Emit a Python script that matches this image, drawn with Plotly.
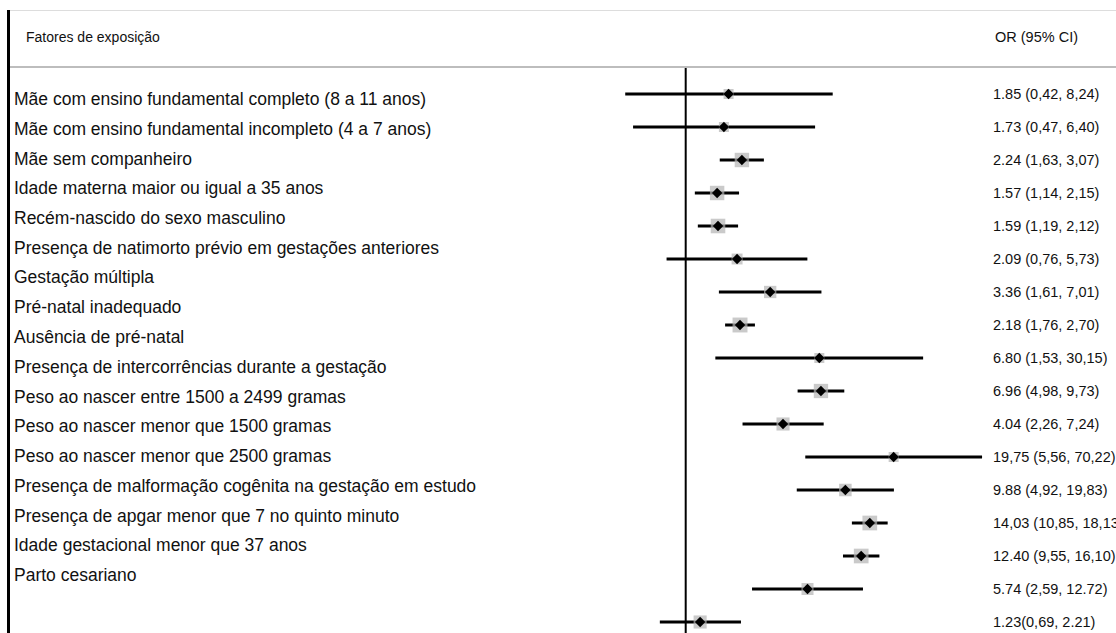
import numpy as np
import plotly.graph_objects as go

# ---- data ----
labels = [
    "Mãe com ensino fundamental completo (8 a 11 anos)",
    "Mãe com ensino fundamental incompleto (4 a 7 anos)",
    "Mãe sem companheiro",
    "Idade materna maior ou igual a 35 anos",
    "Recém-nascido do sexo masculino",
    "Presença de natimorto prévio em gestações anteriores",
    "Gestação múltipla",
    "Pré-natal inadequado",
    "Ausência de pré-natal",
    "Presença de intercorrências durante a gestação",
    "Peso ao nascer entre 1500 a 2499 gramas",
    "Peso ao nascer menor que 1500 gramas",
    "Peso ao nascer menor que 2500 gramas",
    "Presença de malformação cogênita na gestação em estudo",
    "Presença de apgar menor que 7 no quinto minuto",
    "Idade gestacional menor que 37 anos",
    "Parto cesariano",
]
odds_ratio = [1.85, 1.73, 2.24, 1.57, 1.59, 2.09, 3.36, 2.18, 6.80, 6.96, 4.04, 19.75, 9.88, 14.03, 12.40, 5.74, 1.23]
ci_low = [0.42, 0.47, 1.63, 1.14, 1.19, 0.76, 1.61, 1.76, 1.53, 4.98, 2.26, 5.56, 4.92, 10.85, 9.55, 2.59, 0.69]
ci_high = [8.24, 6.40, 3.07, 2.15, 2.12, 5.73, 7.01, 2.70, 30.15, 9.73, 7.24, 70.22, 19.83, 18.13, 16.10, 12.72, 2.21]
or_text = [
    "1.85 (0,42, 8,24)", "1.73 (0,47, 6,40)", "2.24 (1,63, 3,07)", "1.57 (1,14, 2,15)",
    "1.59 (1,19, 2,12)", "2.09 (0,76, 5,73)", "3.36 (1,61, 7,01)", "2.18 (1,76, 2,70)",
    "6.80 (1,53, 30,15)", "6.96 (4,98, 9,73)", "4.04 (2,26, 7,24)", "19,75 (5,56, 70,22)",
    "9.88 (4,92, 19,83)", "14,03 (10,85, 18,13)", "12.40 (9,55, 16,10)", "5.74 (2,59, 12.72)",
    "1.23(0,69, 2.21)",
]
header_left = "Fatores de exposição"
header_right = "OR (95% CI)"

# ---- layout ----
W, H = 1116, 633
n = len(odds_ratio)
rows = list(range(n))
row_px0, row_step = 94.0, 33.0          # pixel y of first row, px per row
x_ref_px, px_per_decade = 685.7, 160.5  # pixel x of OR=1, px per decade
xrange = [-x_ref_px / px_per_decade, (W - x_ref_px) / px_per_decade]
yrange = [(H - row_px0) / row_step, -row_px0 / row_step]

def py(p):  # pixel y -> paper y
    return 1 - p / H

# box size from CI width (inverse precision)
log_w = np.log(np.array(ci_high) / np.array(ci_low))
box_size = np.clip(16 - 2.5 * log_w, 10, 15)

ci_x, ci_y = [], []
for i in rows:
    ci_x += [ci_low[i], ci_high[i], None]
    ci_y += [i, i, None]

fig = go.Figure()
fig.add_trace(go.Scatter(x=ci_x, y=ci_y, mode="lines",
                         line=dict(color="black", width=3), hoverinfo="skip"))
fig.add_trace(go.Scatter(x=odds_ratio, y=rows, mode="markers",
                         marker=dict(symbol="square", size=box_size, color="#b4b4b4", line=dict(width=0))))
fig.add_trace(go.Scatter(x=odds_ratio, y=rows, mode="markers",
                         marker=dict(symbol="diamond", size=8, color="black", line=dict(width=0))))

shapes = [
    # reference line at OR = 1
    dict(type="line", xref="x", yref="paper", x0=1, x1=1, y0=0, y1=py(67),
         line=dict(color="black", width=2)),
    # left frame line
    dict(type="line", xref="paper", yref="paper", x0=8.5 / W, x1=8.5 / W, y0=0, y1=py(10),
         line=dict(color="black", width=3)),
    # top thin line
    dict(type="line", xref="paper", yref="paper", x0=10 / W, x1=1, y0=py(10.5), y1=py(10.5),
         line=dict(color="#dddddd", width=1)),
    # header separator
    dict(type="line", xref="paper", yref="paper", x0=10 / W, x1=1, y0=py(67), y1=py(67),
         line=dict(color="#bdbdbd", width=2)),
]

annotations = [
    dict(text=header_left, xref="paper", yref="paper", x=24 / W, y=py(37), xanchor="left",
         yanchor="middle", showarrow=False, font=dict(size=14, color="#111")),
    dict(text=header_right, xref="paper", yref="paper", x=993 / W, y=py(37), xanchor="left",
         yanchor="middle", showarrow=False, font=dict(size=14.5, color="#111")),
]
label_px0, label_step = 99.0, 29.75
for i, lab in enumerate(labels):
    annotations.append(dict(text=lab, xref="paper", yref="paper", x=12 / W,
                            y=py(label_px0 + label_step * i), xanchor="left", yanchor="middle",
                            showarrow=False, font=dict(size=17.5, color="#111")))
for i, t in enumerate(or_text):
    annotations.append(dict(text=t, xref="paper", yref="y", x=991 / W, y=i, xanchor="left",
                            yanchor="middle", showarrow=False, font=dict(size=14.5, color="#111")))

fig.update_layout(
    width=W, height=H, margin=dict(l=0, r=0, t=0, b=0),
    paper_bgcolor="white", plot_bgcolor="white", showlegend=False,
    font=dict(family="Liberation Sans, Arial, sans-serif"),
    xaxis=dict(type="log", range=xrange, visible=False, fixedrange=True),
    yaxis=dict(range=yrange, visible=False, fixedrange=True),
    shapes=shapes, annotations=annotations,
)
fig.write_html("out.html", config={"displayModeBar": False},
               post_script="document.body.style.margin='0';document.body.style.overflow='hidden';")
